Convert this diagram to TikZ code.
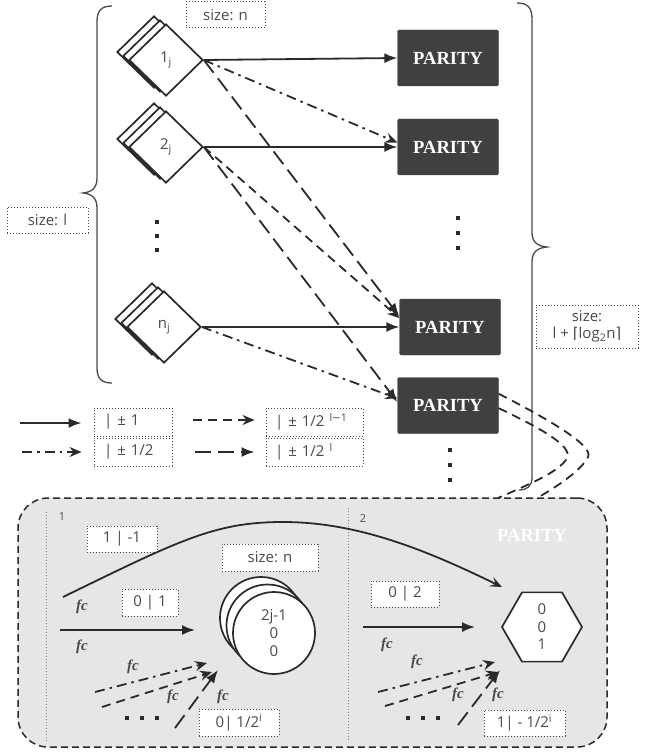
\documentclass[tikz,border=0pt]{standalone}
\usepackage{fontspec}
\setmainfont{Open Sans}
\newfontfamily\serifb{Liberation Serif}
\newfontfamily\dejavu{DejaVu Sans}
\usetikzlibrary{shapes.geometric,shadows,arrows.meta}
\definecolor{ink}{HTML}{2A2A2A}
\definecolor{txt}{HTML}{4A4A4A}
\definecolor{pbox}{HTML}{404040}
\definecolor{panelc}{HTML}{E6E6E6}
\begin{document}
\begin{tikzpicture}[x=1pt,y=-1pt,
  lbl/.style={draw=txt, dotted, line width=1pt, fill=white, text=txt,
    font=\fontsize{15}{17}\selectfont, inner sep=0pt, minimum height=26pt},
  dia/.style={diamond, aspect=1, draw=ink, line width=1.7pt, fill=white,
    minimum width=74pt, minimum height=72pt, inner sep=0pt, text=txt,
    font=\fontsize{15}{17}\selectfont,
    copy shadow={shadow xshift=-12pt, shadow yshift=8pt, draw=ink, line width=1.7pt},
    copy shadow={shadow xshift=-6pt, shadow yshift=4pt, draw=ink, line width=1.7pt}},
  par/.style={rectangle, fill=pbox, draw=pbox, rounded corners=1.5pt,
    minimum width=101pt, minimum height=56pt, text=white,
    font=\serifb\bfseries\fontsize{18.5}{18.5}\selectfont},
  brc/.style={draw=txt, line width=1.3pt},
  arr/.style={draw=ink, line width=1.8pt},
  sol/.style={arr, -{Latex[length=13pt,width=10pt]}},
  ddt/.style={arr, dash pattern=on 10pt off 5pt on 2.5pt off 5pt, -{Stealth[length=12pt,width=10pt,inset=4pt]}},
  sdh/.style={arr, dash pattern=on 9pt off 6pt, -{Stealth[length=12pt,width=10pt,inset=4pt]}},
  ldh/.style={arr, dash pattern=on 16pt off 7pt, -{Latex[length=13pt,width=10pt]}},
  fcl/.style={text=txt, font=\serifb\bfseries\itshape\fontsize{15}{15}\selectfont, inner sep=0pt},
  tiny/.style={text=txt, font=\fontsize{11}{11}\selectfont, inner sep=0pt},
  dotm/.style={fill=ink}
]
\useasboundingbox (0,0) rectangle (652,754);

% braces
\draw[brc] (112,6) .. controls (101,6) and (97,11) .. (97,22) -- (97,178)
  .. controls (97,188) and (92,192) .. (83,193) .. controls (92,194) and (97,198) .. (97,208)
  -- (97,368) .. controls (97,378) and (101,383) .. (112,383);
\draw[brc] (517,3) .. controls (528,3) and (532,8) .. (532,19) -- (532,232)
  .. controls (532,242) and (537,246) .. (547,247) .. controls (537,248) and (532,252) .. (532,262)
  -- (532,478) .. controls (532,486) and (527,490) .. (519,490);

% size labels
\node[lbl, minimum width=79pt] (szn) at (225.5,15) {size: n};
\node[lbl, minimum width=81pt] (szl) at (47.5,220) {size: l};
\node[lbl, minimum width=102pt, minimum height=43pt, align=center, font=\fontsize{15}{17}\selectfont]
  (szlog) at (587,326.5) {size:\\ l + {\dejavu ⌈}log\textsubscript{2}n{\dejavu ⌉}};

% diamonds
\node[dia] (d1) at (166,60) {1\textsubscript{j}};
\node[dia] (d2) at (166,147) {2\textsubscript{j}};
\node[dia] (dn) at (164,327) {n\textsubscript{j}};

% parity boxes
\node[par] (P1) at (448,58) {PARITY};
\node[par] (P2) at (448,147) {PARITY};
\node[par] (P3) at (450,327) {PARITY};
\node[par] (P4) at (448,405.5) {PARITY};

% vertical dots
\foreach \yy in {222,236,250} \fill[dotm] (155.3,\yy-2) rectangle (159.3,\yy+2);
\foreach \yy in {218,233,248} \fill[dotm] (455.8,\yy-2) rectangle (459.8,\yy+2);
\foreach \yy in {450,465,480} \fill[dotm] (448.3,\yy-2) rectangle (452.3,\yy+2);

% connectors top
\draw[sol] (d1.east) -- (P1.west);
\draw[sol] (d2.east) -- (P2.west);
\draw[sol] (dn.east) -- (P3.west);
\draw[ddt] (d1.east) -- (P2.175);
\draw[ddt] (dn.east) -- (P4.172);
\draw[ldh] (d1.east) -- (P3.168);
\draw[sdh] (d2.east) -- (P3.170);
\draw[ldh] (d2.east) -- (P4.176);

% legend
\node[lbl, minimum width=78pt, minimum height=28pt, text width=58pt, align=left, inner xsep=10pt] (L1) at (133,422) {| ± 1};
\node[lbl, minimum width=78pt, minimum height=28pt, text width=58pt, align=left, inner xsep=10pt] (L2) at (133,452) {| ± 1/2};
\node[lbl, minimum width=97pt, minimum height=28pt, text width=79pt, align=left, inner xsep=9pt] (L3) at (314.5,422) {| ± 1/2 \textsuperscript{l{\dejavu −}1}};
\node[lbl, minimum width=97pt, minimum height=28pt, text width=79pt, align=left, inner xsep=9pt] (L4) at (314.5,452) {| ± 1/2 \textsuperscript{l}};
\coordinate (a1) at (20,423);
\coordinate (a2) at (22,452);
\coordinate (a3) at (193,420);
\coordinate (a4) at (195,452);
\draw[sol] (a1) -- ([xshift=-12pt]L1.west |- a1);
\draw[ddt] (a2) -- ([xshift=-12pt]L2.west |- a2);
\draw[sdh] (a3) -- ([xshift=-11pt]L3.west |- a3);
\draw[ldh] (a4) -- ([xshift=-11pt]L4.west |- a4);

% bottom panel
\node[draw=ink, dash pattern=on 7pt off 4pt, line width=1.5pt, rounded corners=30pt,
  fill=panelc, minimum width=589pt, minimum height=249pt, inner sep=0pt] (panel) at (312.5,622.5) {};
\coordinate (po) at (537,498);
\coordinate (pin) at (498,498);
\draw[arr, dash pattern=on 9pt off 6pt] (P4.13) .. controls (550,420) and (594,446) .. (588,457)
  .. controls (582,470) and (555,488) .. (po);
\draw[arr, dash pattern=on 9pt off 6pt] (P4.357) .. controls (540,428) and (573,446) .. (567,458)
  .. controls (560,472) and (525,486) .. (pin);

\draw[txt!70, dotted, line width=1pt] (46,512) -- (46,742);
\draw[txt!70, dotted, line width=1pt] (348,508) -- (348,742);
\node[tiny] (n1) at (62,517) {1};
\node[tiny] (n2) at (363,519) {2};
\node[text=white, font=\serifb\bfseries\fontsize{18.5}{18.5}\selectfont] (ptitle) at (532,535) {PARITY};

% section 1
\node[lbl, minimum width=70pt] (b11) at (122,539) {1 | -1};
\node[lbl, minimum width=96pt, minimum height=27pt] (b1s) at (270,557.5) {size: n};
\node[lbl, minimum width=56pt, minimum height=27pt] (b101) at (150,602.5) {0 | 1};
\node[lbl, minimum width=80pt, minimum height=27pt] (b1h) at (239,722.5) {0| 1/2\textsuperscript{i}};
\node[circle, draw=ink, line width=1.7pt, fill=white, minimum size=82pt, inner sep=0pt,
  copy shadow={shadow xshift=-13pt, shadow yshift=15pt, draw=ink, line width=1.7pt},
  copy shadow={shadow xshift=-6.5pt, shadow yshift=7.5pt, draw=ink, line width=1.7pt},
  text=txt, align=center, font=\fontsize{15}{18}\selectfont] (circ) at (274,633) {2j-1\\0\\0};

% section 2
\node[lbl, minimum width=68pt] (b202) at (405,594) {0 | 2};
\node[lbl, minimum width=81pt] (b2h) at (524.5,723) {1| - 1/2\textsuperscript{i}};
\node[regular polygon, regular polygon sides=6, draw=ink, line width=1.7pt, fill=white,
  minimum size=80pt, inner sep=0pt, text=txt, align=center, font=\fontsize{15}{17.5}\selectfont]
  (hex) at (542,627) {0\\0\\1};

% section arrows
\coordinate (s0) at (63,597);
\coordinate (hin) at (502,587);
\draw[arr, -{Stealth[length=12pt,width=10pt,inset=5pt]}] (s0) .. controls (180,540) and (215,522) .. (283,522)
  .. controls (360,522) and (430,552) .. (hin);
\coordinate (s1) at (60,630); \coordinate (e1) at (195,630);
\draw[sol] (s1) -- (e1);
\coordinate (s2) at (363,627); \coordinate (e2) at (475,627);
\draw[sol] (s2) -- (e2);

\coordinate (l1a) at (95,692); \coordinate (l1b) at (207,663);
\coordinate (l2a) at (102,707); \coordinate (l2b) at (212,672);
\coordinate (l3a) at (175,728); \coordinate (l3b) at (218,670);
\draw[ddt] (l1a) -- (l1b);
\draw[sdh] (l2a) -- (l2b);
\draw[ldh] (l3a) -- (l3b);
\coordinate (r1a) at (378,692); \coordinate (r1b) at (495,662);
\coordinate (r2a) at (385,706); \coordinate (r2b) at (498,672);
\coordinate (r3a) at (458,725); \coordinate (r3b) at (500,670);
\draw[ddt] (r1a) -- (r1b);
\draw[sdh] (r2a) -- (r2b);
\draw[ldh] (r3a) -- (r3b);

\foreach \xx in {127,142,157} \fill[dotm] (\xx-2,716) rectangle (\xx+2,720);
\foreach \xx in {408,423,438} \fill[dotm] (\xx-2,716) rectangle (\xx+2,720);

% fc labels
\node[fcl] (f1) at (82,607) {fc};
\node[fcl] (f2) at (82,647) {fc};
\node[fcl] (f3) at (133,667) {fc};
\node[fcl] (f4) at (173,697) {fc};
\node[fcl] (f5) at (223,697) {fc};
\node[fcl] (f6) at (387,645) {fc};
\node[fcl] (f7) at (417,662) {fc};
\node[fcl] (f8) at (458,695) {fc};
\node[fcl] (f9) at (498,695) {fc};
\end{tikzpicture}
\end{document}
